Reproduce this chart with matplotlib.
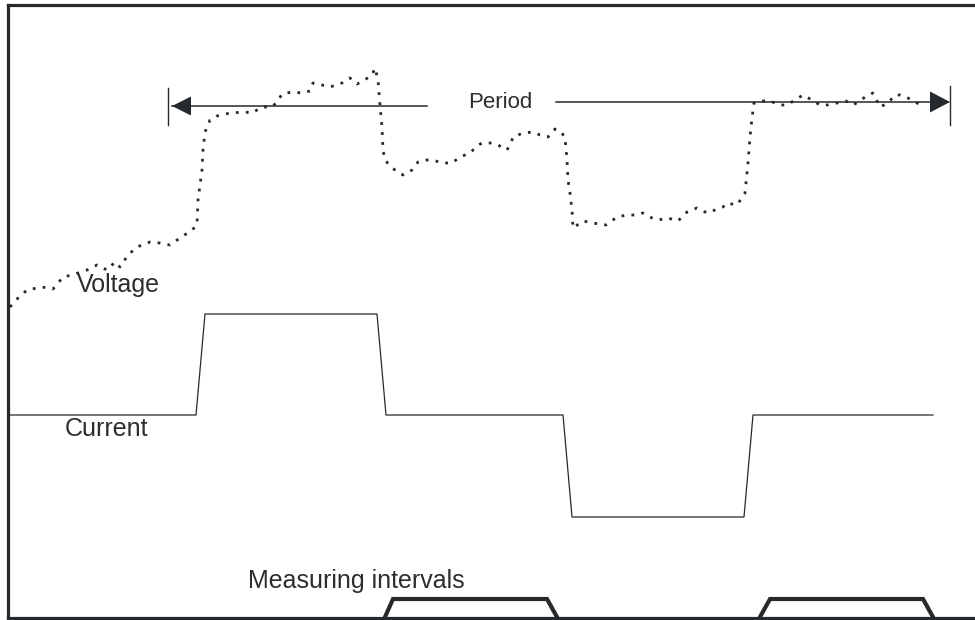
import numpy as np
import matplotlib.pyplot as plt

plt.rcParams['font.family'] = ['Liberation Sans', 'DejaVu Sans']

# voltage trace (noisy, dotted)
volt_x = [10, 18, 27, 42, 53, 63, 72, 87, 97, 107, 115, 120, 128, 137, 150, 160, 170, 180, 192, 197,
          198, 202, 203, 205, 210, 217, 230, 245, 252, 262, 272, 277, 282, 292, 302, 310, 313, 322,
          330, 342, 350, 357, 363, 372, 375, 378, 380, 382, 383, 385, 392, 403, 412, 418, 427, 433,
          442, 452, 460, 470, 477, 482, 492, 498, 507, 511, 513, 523, 533, 540, 548, 555, 560, 565,
          567, 568, 570, 572, 573, 583, 593, 606, 617, 627, 635, 643, 652, 658, 668, 678, 687, 697,
          707, 715, 723, 727, 737, 745, 748, 750, 752, 754, 763, 770, 780, 787, 795, 803, 812, 820,
          827, 837, 846, 853, 860, 865, 873, 880, 888, 895, 900, 908, 917, 924]
volt_y = [307, 298, 290, 287, 289, 277, 275, 270, 265, 270, 262, 267, 255, 247, 242, 243, 245, 238, 230, 225,
          200, 170, 150, 132, 120, 116, 113, 112, 113, 107, 107, 102, 94, 92, 93, 91, 83, 85,
          87, 83, 78, 84, 81, 75, 68, 80, 105, 127, 150, 160, 168, 175, 170, 162, 160, 160,
          163, 163, 157, 153, 146, 143, 143, 145, 150, 143, 137, 133, 132, 135, 137, 129, 131, 137,
          160, 180, 193, 210, 228, 221, 223, 225, 217, 215, 215, 213, 218, 220, 218, 221, 212, 208,
          213, 210, 207, 203, 205, 193, 163, 137, 118, 103, 101, 101, 105, 105, 100, 95, 100, 105,
          105, 103, 101, 105, 101, 97, 93, 107, 103, 95, 95, 98, 103, 107]

# current waveform
cur_x = [10, 196, 205, 377, 386, 563, 572, 744, 753, 933]
cur_y = [415, 415, 314, 314, 415, 415, 517, 517, 415, 415]

# measuring intervals (two trapezoids, gap between them)
meas_x = [385, 393, 547, 557, np.nan, 760, 770, 923, 933]
meas_y = [617, 599, 599, 617, np.nan, 617, 599, 599, 617]

# period marker
period_left, period_right = 168, 950
period_gap = (427, 556)
period_y_left, period_y_right = 106, 102

ink = '#262a2c'

fig = plt.figure(figsize=(9.75, 6.2), dpi=100)
ax = fig.add_axes([8 / 975, 2 / 620, 967 / 975, 613 / 620])
ax.set_xlim(8, 975)
ax.set_ylim(618, 5)
ax.set_xticks([])
ax.set_yticks([])
ax.spines['right'].set_visible(False)
for s in ['left', 'top', 'bottom']:
    ax.spines[s].set_linewidth(2.3)
    ax.spines[s].set_color(ink)

ax.plot(volt_x, volt_y, color=ink, lw=2.0, linestyle=(0, (1.0, 2.6)))
ax.plot(cur_x, cur_y, color=ink, lw=0.9)
ax.plot(meas_x, meas_y, color=ink, lw=3.0, solid_joinstyle='miter', clip_on=False)

# period arrow
ax.plot([period_left + 4, period_gap[0]], [period_y_left, period_y_left], color=ink, lw=1.1)
ax.plot([period_gap[1], period_right - 2], [period_y_right, period_y_right], color=ink, lw=1.1)
ax.plot([period_left, period_left], [88, 125], color=ink, lw=1.0)
ax.plot([period_right, period_right], [86, 125], color=ink, lw=1.0)
ax.fill([period_left + 4, period_left + 23, period_left + 23],
        [period_y_left, period_y_left - 9.5, period_y_left + 9.5], color=ink, lw=0)
ax.fill([period_right, period_right - 20, period_right - 20],
        [period_y_right, period_y_right - 10.5, period_y_right + 10.5], color=ink, lw=0)

txt = dict(color='#2b2e30', va='baseline', ha='left')
ax.text(77, 292, 'Voltage', fontsize=18, **txt)
ax.text(65, 436, 'Current', fontsize=18, **txt)
ax.text(248, 588, 'Measuring intervals', fontsize=18, **txt)
ax.text(468, 108, 'Period', fontsize=16, **txt)

fig.savefig('out.png', dpi=100)
